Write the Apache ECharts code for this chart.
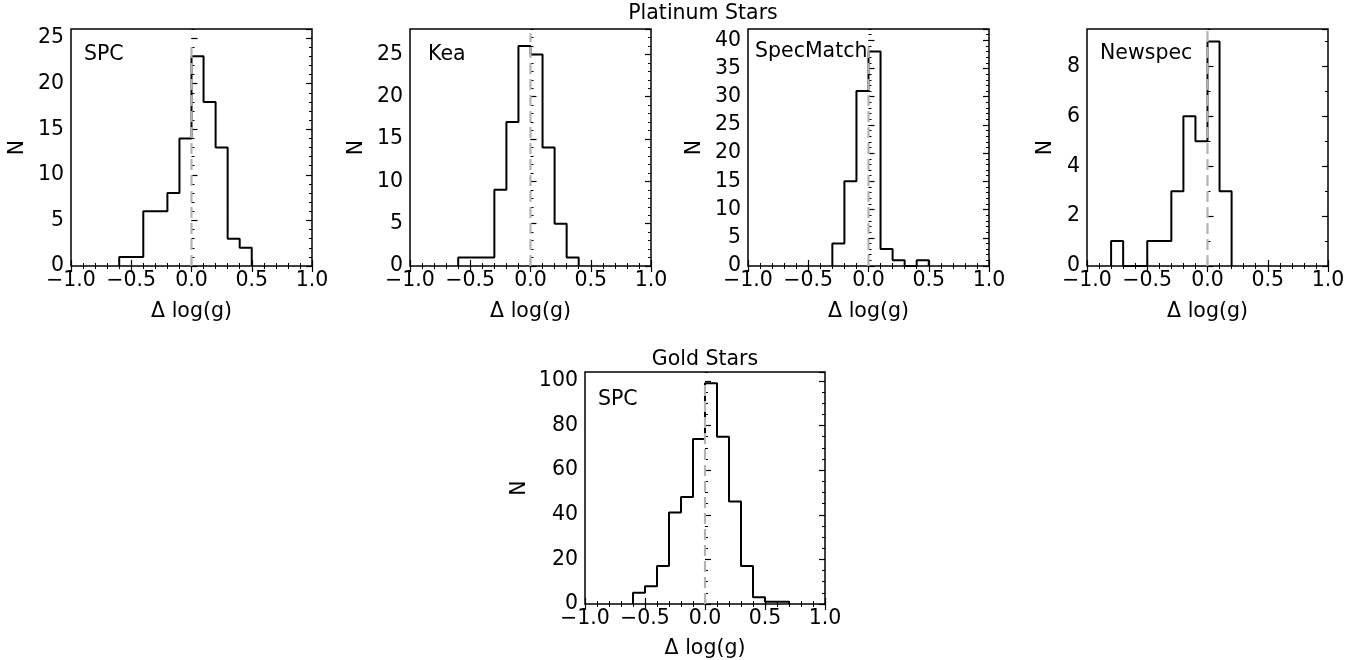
<!DOCTYPE html>
<html><head><meta charset="utf-8">
<script src="https://cdn.jsdelivr.net/npm/echarts@6/dist/echarts.min.js"></script>
<style>html,body{margin:0;padding:0;background:#fff}#c{width:1364px;height:660px}</style>
</head><body><div id="c"></div>
<script>
// ---- data ----
const spcPlatEdges   = [-0.6,-0.5,-0.4,-0.3,-0.2,-0.1,0.0,0.1,0.2,0.3,0.4,0.5];
const spcPlatCounts  = [1,1,6,6,8,14,23,18,13,3,2];
const keaEdges       = [-0.6,-0.5,-0.4,-0.3,-0.2,-0.1,0.0,0.1,0.2,0.3,0.4];
const keaCounts      = [1,1,1,9,17,26,25,14,5,1];
const specMatchEdges = [-0.3,-0.2,-0.1,0.0,0.1,0.2,0.3,0.4,0.5];
const specMatchCounts= [4,15,31,38,3,1,0,1];
const newspecEdges   = [-0.8,-0.7,-0.6,-0.5,-0.4,-0.3,-0.2,-0.1,0.0,0.1,0.2];
const newspecCounts  = [1,0,0,1,1,3,6,5,9,3];
const spcGoldEdges   = [-0.6,-0.5,-0.4,-0.3,-0.2,-0.1,0.0,0.1,0.2,0.3,0.4,0.5,0.6,0.7];
const spcGoldCounts  = [5,8,17,41,48,74,99,75,46,17,3,1,1];

const panelNames = ['SPC','Kea','SpecMatch','Newspec','SPC'];
const yMax       = [26,28,42,9.5,104];
const yMajor     = [5,5,5,2,20];
const yMinor     = [1,1,1,1,5];
const vlineTop   = [24,27.5,39,9.5,100];
const xMin = -1, xMax = 1, xMajor = 0.5, xMinorSplit = 5;
const groupTitles = ['Platinum Stars','Gold Stars'];
const xLabel = 'Δ log(g)', yLabel = 'N';

const histEdges  = [spcPlatEdges, keaEdges, specMatchEdges, newspecEdges, spcGoldEdges];
const histCounts = [spcPlatCounts, keaCounts, specMatchCounts, newspecCounts, spcGoldCounts];

// ---- layout ----
const FONT = 'DejaVu Sans';
const FS = 20.5;
const grids = [
  {left:71,  top:29,  width:241, height:237},
  {left:410, top:29,  width:241, height:237},
  {left:748, top:29,  width:241, height:237},
  {left:1087,top:29,  width:241, height:237},
  {left:585, top:372, width:240, height:232}
];
const yNameGap = [43,43,43,31,55];
const xNameGap = [35,35,35,35,34];
const annot = [[84,55],[428,55],[755,52],[1100,54],[598,399.5]];
const titlePos = [[703,14],[705,360]];

function stepData(edges, counts){
  const d = [[edges[0],0]];
  for (let i=0;i<counts.length;i++) d.push([edges[i],counts[i]]);
  d.push([edges[edges.length-1],counts[counts.length-1]]);
  d.push([edges[edges.length-1],0]);
  return d;
}
const fmtX = v => (Math.abs(v)<1e-9?0:v).toFixed(1).replace('-','\u2212');

const opt = {animation:false, backgroundColor:'#fff', grid:[], xAxis:[], yAxis:[], series:[], graphic:[]};
const tick = (len,w)=>({show:true, inside:true, length:len, lineStyle:{color:'#000', width:w}});
grids.forEach((g,i)=>{
  opt.grid.push(Object.assign({show:true, borderColor:'#000', borderWidth:1.5, backgroundColor:'transparent'}, g));
  const xi0 = opt.xAxis.length;
  ['bottom','top'].forEach((pos,k)=>{
    opt.xAxis.push({gridIndex:i, type:'value', position:pos, min:xMin, max:xMax, interval:xMajor,
      axisLine:{show:false}, splitLine:{show:false},
      axisTick:tick(6,1.2), minorTick:{show:true, splitNumber:xMinorSplit, length:3, lineStyle:{color:'#000', width:1}},
      axisLabel:{show:k===0, margin:4, color:'#000', fontSize:FS, fontFamily:FONT, formatter:fmtX},
      name:k===0?xLabel:'', nameLocation:'middle', nameGap:xNameGap[i],
      nameTextStyle:{color:'#000', fontSize:FS, fontFamily:FONT}});
  });
  const yi0 = opt.yAxis.length;
  ['left','right'].forEach((pos,k)=>{
    opt.yAxis.push({gridIndex:i, type:'value', position:pos, min:0, max:yMax[i], interval:yMajor[i],
      axisLine:{show:false}, splitLine:{show:false}, axisTick:tick(6,1.2),
      axisLabel:{show:k===0, showMaxLabel:false, margin:7, color:'#000', fontSize:FS, fontFamily:FONT},
      name:k===0?yLabel:'', nameLocation:'middle', nameGap:yNameGap[i], nameRotate:90,
      nameTextStyle:{color:'#000', fontSize:FS, fontFamily:FONT}});
    opt.yAxis.push({gridIndex:i, type:'value', position:pos, min:0, max:yMax[i], interval:yMinor[i],
      axisLine:{show:false}, splitLine:{show:false}, axisTick:tick(3,1),
      axisLabel:{show:false}});
  });
  opt.series.push({type:'line', xAxisIndex:xi0, yAxisIndex:yi0, step:'end', symbol:'none', z:2,
    data:stepData(histEdges[i], histCounts[i]), lineStyle:{color:'#000', width:2}});
  opt.series.push({type:'line', xAxisIndex:xi0, yAxisIndex:yi0, symbol:'none', z:3,
    data:[[0,0],[0,vlineTop[i]]], lineStyle:{color:'#b4b4b4', width:2.2, type:[11,5]}});
  opt.graphic.push({type:'text', x:annot[i][0], y:annot[i][1], z:10,
    style:{text:panelNames[i], fill:'#000', font:FS+'px "'+FONT+'"', textAlign:'left', textVerticalAlign:'middle'}});
});
groupTitles.forEach((t,j)=>{
  opt.graphic.push({type:'text', x:titlePos[j][0], y:titlePos[j][1],
    style:{text:t, fill:'#000', font:FS+'px "'+FONT+'"', textAlign:'center', textVerticalAlign:'middle'}});
});
const chart = echarts.init(document.getElementById('c'), null, {renderer:'canvas'});
chart.setOption(opt);
</script></body></html>
